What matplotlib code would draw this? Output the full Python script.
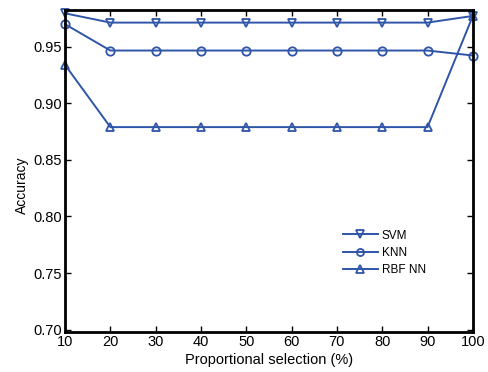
import matplotlib.pyplot as plt
import numpy as np

plt.rcParams['font.family'] = ['Liberation Sans', 'DejaVu Sans']

proportion = [10, 20, 30, 40, 50, 60, 70, 80, 90, 100]
svm = [0.9796, 0.9714, 0.9714, 0.9714, 0.9714, 0.9714, 0.9714, 0.9714, 0.9714, 0.9773]
knn = [0.9700, 0.9467, 0.9467, 0.9467, 0.9467, 0.9467, 0.9467, 0.9467, 0.9467, 0.9423]
rbf = [0.9340, 0.8790, 0.8790, 0.8790, 0.8790, 0.8790, 0.8790, 0.8790, 0.8790, 0.9773]
xticks = [10, 20, 30, 40, 50, 60, 70, 80, 90, 100]
yticks = [0.70, 0.75, 0.80, 0.85, 0.90, 0.95]

color = '#2f55a8'

fig = plt.figure(figsize=(4.89, 3.72), dpi=100)
ax = fig.add_axes([0.133, 0.108, 0.834, 0.865])

style = dict(color=color, linewidth=1.4, markersize=6, markerfacecolor='none',
             markeredgewidth=1.3, clip_on=False)
ax.plot(proportion, svm, marker='v', label='SVM', **style)
ax.plot(proportion, knn, marker='o', label='KNN', **style)
ax.plot(proportion, rbf, marker='^', label='RBF NN', **style)

ax.set_xlim(10, 100)
ax.set_ylim(0.698, 0.9825)
ax.set_xticks(xticks)
ax.set_yticks(yticks)
ax.set_yticklabels([f'{v:.2f}' for v in yticks])
ax.tick_params(direction='in', top=True, right=True, length=4, width=1,
               labelsize=10.5, pad=2)
for s in ax.spines.values():
    s.set_linewidth(2)

ax.set_xlabel('Proportional selection (%)', fontsize=10.5, labelpad=3)
ax.set_ylabel('Accuracy', fontsize=10)
ax.yaxis.set_label_coords(-0.088, 0.457)

ax.legend(loc='lower left', bbox_to_anchor=(0.655, 0.14), frameon=False,
          fontsize=8.5, handlelength=3.0, handletextpad=0.3, labelspacing=0.45,
          markerscale=0.85)

fig.savefig('out.png', dpi=100)
